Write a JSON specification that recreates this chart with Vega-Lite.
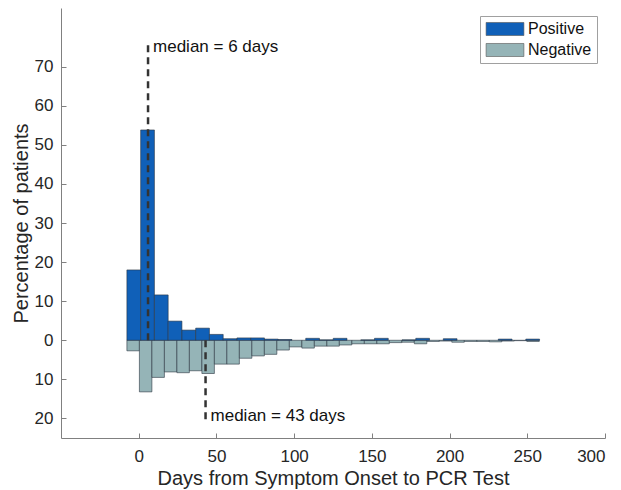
{
  "$schema": "https://vega.github.io/schema/vega-lite/v6.json",
  "width": 544,
  "height": 430,
  "autosize": {"type": "none"},
  "padding": {"left": 61, "top": 8, "right": 16, "bottom": 52},
  "config": {
    "view": {"stroke": null},
    "font": "Liberation Sans",
    "axis": {
      "grid": false,
      "domainColor": "#808080",
      "tickColor": "#808080",
      "tickSize": -5,
      "labelFontSize": 17,
      "labelColor": "#262626",
      "titleFontSize": 20,
      "titleFontWeight": "normal",
      "titleColor": "#262626"
    }
  },
  "datasets": {
    "bars": [
      {"test": "Negative", "start": -7.6, "end": 0.44, "pct": -2.7},
      {"test": "Negative", "start": 0.44, "end": 8.48, "pct": -13.2},
      {"test": "Negative", "start": 8.48, "end": 16.52, "pct": -9.5},
      {"test": "Negative", "start": 16.52, "end": 24.56, "pct": -8.1},
      {"test": "Negative", "start": 24.56, "end": 32.6, "pct": -8.3},
      {"test": "Negative", "start": 32.6, "end": 40.64, "pct": -7.8},
      {"test": "Negative", "start": 40.64, "end": 48.68, "pct": -8.5},
      {"test": "Negative", "start": 48.68, "end": 56.72, "pct": -6.1},
      {"test": "Negative", "start": 56.72, "end": 64.76, "pct": -6.1},
      {"test": "Negative", "start": 64.76, "end": 72.8, "pct": -4.6},
      {"test": "Negative", "start": 72.8, "end": 80.84, "pct": -4.0},
      {"test": "Negative", "start": 80.84, "end": 88.88, "pct": -3.6},
      {"test": "Negative", "start": 88.88, "end": 96.92, "pct": -2.5},
      {"test": "Negative", "start": 96.92, "end": 104.96, "pct": -1.7},
      {"test": "Negative", "start": 104.96, "end": 113.0, "pct": -2.0},
      {"test": "Negative", "start": 113.0, "end": 121.04, "pct": -1.5},
      {"test": "Negative", "start": 121.04, "end": 129.08, "pct": -1.5},
      {"test": "Negative", "start": 129.08, "end": 137.12, "pct": -1.2},
      {"test": "Negative", "start": 137.12, "end": 145.16, "pct": -0.9},
      {"test": "Negative", "start": 145.16, "end": 153.2, "pct": -0.9},
      {"test": "Negative", "start": 153.2, "end": 161.24, "pct": -0.9},
      {"test": "Negative", "start": 161.24, "end": 169.28, "pct": -0.6},
      {"test": "Negative", "start": 169.28, "end": 177.32, "pct": -0.5},
      {"test": "Negative", "start": 177.32, "end": 185.36, "pct": -0.9},
      {"test": "Negative", "start": 185.36, "end": 193.4, "pct": -0.3},
      {"test": "Negative", "start": 193.4, "end": 201.44, "pct": -0.2},
      {"test": "Negative", "start": 201.44, "end": 209.48, "pct": -0.5},
      {"test": "Negative", "start": 209.48, "end": 217.52, "pct": -0.3},
      {"test": "Negative", "start": 217.52, "end": 225.56, "pct": -0.3},
      {"test": "Negative", "start": 225.56, "end": 233.6, "pct": -0.4},
      {"test": "Negative", "start": 233.6, "end": 241.64, "pct": -0.2},
      {"test": "Negative", "start": 241.64, "end": 249.68, "pct": -0.1},
      {"test": "Negative", "start": 249.68, "end": 257.72, "pct": -0.3},
      {"test": "Positive", "start": -7.6, "end": 1.25, "pct": 18.0},
      {"test": "Positive", "start": 1.25, "end": 10.1, "pct": 53.8},
      {"test": "Positive", "start": 10.1, "end": 18.95, "pct": 11.6},
      {"test": "Positive", "start": 18.95, "end": 27.8, "pct": 4.9},
      {"test": "Positive", "start": 27.8, "end": 36.65, "pct": 2.6},
      {"test": "Positive", "start": 36.65, "end": 45.5, "pct": 3.1},
      {"test": "Positive", "start": 45.5, "end": 54.35, "pct": 1.5},
      {"test": "Positive", "start": 54.35, "end": 63.2, "pct": 0.4},
      {"test": "Positive", "start": 63.2, "end": 72.05, "pct": 0.6},
      {"test": "Positive", "start": 72.05, "end": 80.9, "pct": 0.6},
      {"test": "Positive", "start": 80.9, "end": 89.75, "pct": 0.3},
      {"test": "Positive", "start": 89.75, "end": 98.6, "pct": 0.2},
      {"test": "Positive", "start": 107.45, "end": 116.3, "pct": 0.5},
      {"test": "Positive", "start": 116.3, "end": 125.15, "pct": 0.1},
      {"test": "Positive", "start": 125.15, "end": 134.0, "pct": 0.5},
      {"test": "Positive", "start": 142.85, "end": 151.7, "pct": 0.1},
      {"test": "Positive", "start": 151.7, "end": 160.55, "pct": 0.5},
      {"test": "Positive", "start": 169.4, "end": 178.25, "pct": 0.1},
      {"test": "Positive", "start": 178.25, "end": 187.1, "pct": 0.5},
      {"test": "Positive", "start": 195.95, "end": 204.8, "pct": 0.4},
      {"test": "Positive", "start": 231.35, "end": 240.2, "pct": 0.3},
      {"test": "Positive", "start": 249.05, "end": 257.9, "pct": 0.3}
    ],
    "medians": [
      {"day": 6, "from": 0, "to": 76, "labelY": 75, "label": "median = 6 days"},
      {"day": 43, "from": 0, "to": -20.3, "labelY": -19.3, "label": "median = 43 days"}
    ]
  },
  "layer": [
    {
      "data": {"name": "bars"},
      "mark": {"type": "rect", "stroke": "#2a3440", "strokeWidth": 0.7, "strokeOpacity": 0.85},
      "encoding": {
        "x": {
          "field": "start", "type": "quantitative",
          "scale": {"domain": [-50, 300], "nice": false, "zero": false},
          "axis": {"values": [0, 50, 100, 150, 200, 250, 300], "title": "Days from Symptom Onset to PCR Test", "labelPadding": 15.5, "titlePadding": 4}
        },
        "x2": {"field": "end"},
        "y": {
          "field": "pct", "type": "quantitative",
          "scale": {"domain": [-25, 85], "nice": false},
          "axis": {"values": [-20, -10, 0, 10, 20, 30, 40, 50, 60, 70], "labelExpr": "abs(datum.value)", "title": "Percentage of patients", "labelPadding": 13, "titlePadding": 3}
        },
        "y2": {"datum": 0},
        "fill": {
          "field": "test", "type": "nominal",
          "scale": {"domain": ["Positive", "Negative"], "range": ["#1060B8", "#95B4B7"]},
          "legend": {
            "title": null,
            "orient": "none",
            "legendX": 419,
            "legendY": 8,
            "direction": "vertical",
            "symbolType": "M-2.7,-0.93H2.7V0.93H-2.7Z",
            "symbolSize": 196,
            "symbolOffset": 12,
            "symbolStrokeColor": "#555555",
            "symbolStrokeWidth": 0.6,
            "labelOffset": 15,
            "labelFontSize": 16,
            "labelColor": "#111111",
            "strokeColor": "#a0a0a0",
            "fillColor": "#ffffff",
            "padding": 5,
            "rowPadding": 5
          }
        }
      }
    },
    {
      "data": {"name": "medians"},
      "mark": {"type": "rule", "strokeDash": [7, 5], "strokeWidth": 2.5, "color": "#333333"},
      "encoding": {
        "x": {"field": "day", "type": "quantitative"},
        "y": {"field": "from", "type": "quantitative"},
        "y2": {"field": "to"}
      }
    },
    {
      "data": {"name": "medians"},
      "mark": {"type": "text", "align": "left", "baseline": "middle", "dx": 5, "fontSize": 17, "color": "#111111"},
      "encoding": {
        "x": {"field": "day", "type": "quantitative"},
        "y": {"field": "labelY", "type": "quantitative"},
        "text": {"field": "label"}
      }
    }
  ]
}
